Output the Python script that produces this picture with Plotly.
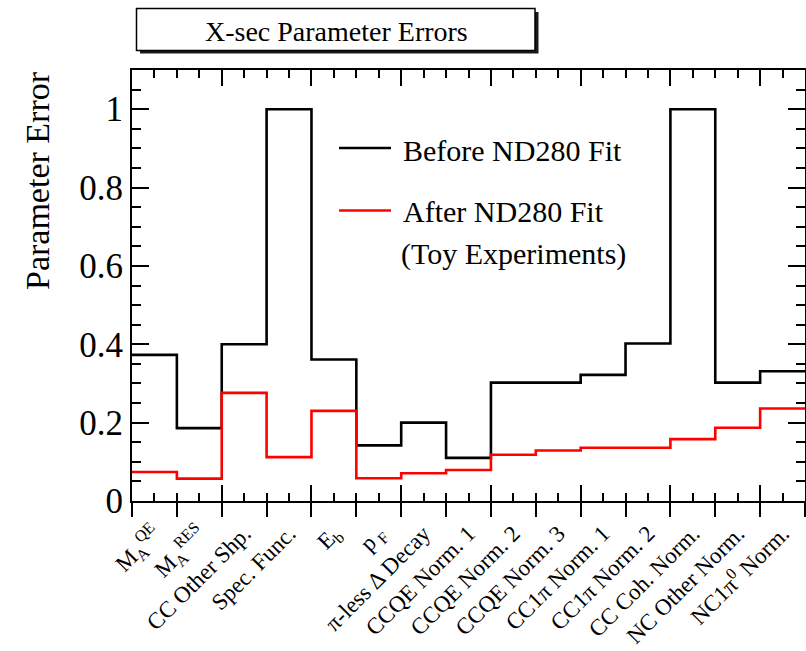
import numpy as np
import plotly.graph_objects as go

# Cross-section parameters (one bin each)
param_labels = [
    "M<sub>A</sub><sup>QE</sup>",
    "M<sub>A</sub><sup>RES</sup>",
    "CC Other Shp.",
    "Spec. Func.",
    "E<sub>b</sub>",
    "p<sub> F</sub>",
    "π-less Δ Decay",
    "CCQE Norm. 1",
    "CCQE Norm. 2",
    "CCQE Norm. 3",
    "CC1π Norm. 1",
    "CC1π Norm. 2",
    "CC Coh. Norm.",
    "NC Other Norm.",
    "NC1π<sup>0</sup> Norm.",
]

# Fractional parameter errors
err_before = [0.373, 0.186, 0.400, 1.000, 0.361, 0.142, 0.200, 0.110,
              0.302, 0.302, 0.322, 0.402, 1.000, 0.302, 0.331]
err_after = [0.074, 0.057, 0.276, 0.112, 0.230, 0.058, 0.071, 0.079,
             0.118, 0.129, 0.136, 0.136, 0.158, 0.187, 0.236]

legend_before = "Before ND280 Fit"
legend_after = ["After ND280 Fit", "(Toy Experiments)"]
title_text = "X-sec Parameter Errors"
ytitle_text = "Parameter Error"

SERIF = "Liberation Serif, Times New Roman, serif"
W, H = 806, 651
ML, MR, MT, MB = 132, 1, 70, 150
PW, PH = W - ML - MR, H - MT - MB

def fx(p):
    """pixel column -> paper x"""
    return (p - ML) / PW

def fy(p):
    """pixel row -> paper y"""
    return (H - MB - p) / PH

nbins = len(param_labels)
edges = np.arange(nbins + 1)
centers = edges[:-1] + 0.5

def step(vals):
    return list(vals) + [vals[-1]]

fig = go.Figure()

fig.add_trace(go.Scatter(
    x=edges, y=step(err_before), mode="lines", line_shape="hv",
    line=dict(color="black", width=2.6), name=legend_before, showlegend=False,
))
fig.add_trace(go.Scatter(
    x=edges, y=step(err_after), mode="lines", line_shape="hv",
    line=dict(color="#ff0000", width=2.6), name=" ".join(legend_after), showlegend=False,
))
# empty traces so the overlay axes get drawn
fig.add_trace(go.Scatter(x=[], y=[], xaxis="x2", showlegend=False))
fig.add_trace(go.Scatter(x=[], y=[], xaxis="x3", showlegend=False))
fig.add_trace(go.Scatter(x=[], y=[], yaxis="y2", showlegend=False))

axis_common = dict(showgrid=False, zeroline=False, automargin=False)

fig.update_layout(
    width=W, height=H,
    margin=dict(l=ML, r=MR, t=MT, b=MB, autoexpand=False),
    paper_bgcolor="white", plot_bgcolor="white",
    font=dict(family=SERIF, color="black"),
    showlegend=False,
    # bin-edge ticks below the axis
    xaxis=dict(
        range=[0, nbins], **axis_common,
        showline=True, linecolor="black", linewidth=2, mirror=True,
        tickmode="linear", tick0=0, dtick=1,
        ticks="outside", ticklen=14, tickwidth=2, tickcolor="black",
        showticklabels=False,
    ),
    # bin labels at bin centres
    xaxis2=dict(
        range=[0, nbins], **axis_common, overlaying="x", anchor="y", side="bottom",
        showline=False,
        tickmode="array", tickvals=centers, ticktext=param_labels,
        ticks="outside", ticklen=9, tickcolor="rgba(0,0,0,0)",
        tickangle=-45, tickfont=dict(family=SERIF, size=23, color="black"),
    ),
    # numeric divisions inside the frame, mirrored on top
    xaxis3=dict(
        range=[0, nbins], **axis_common, overlaying="x", anchor="y", side="bottom",
        showline=False, mirror="ticks",
        tickmode="linear", tick0=0, dtick=2,
        ticks="inside", ticklen=16, tickwidth=2, tickcolor="black",
        minor=dict(ticks="inside", dtick=0.5, tick0=0, ticklen=8, tickwidth=2, tickcolor="black"),
        showticklabels=False,
    ),
    yaxis=dict(
        range=[0, 1.1], **axis_common,
        showline=True, linecolor="black", linewidth=2, mirror=True,
        tickmode="linear", tick0=0, dtick=0.2,
        ticks="inside", ticklen=17, tickwidth=2, tickcolor="black",
        minor=dict(ticks="inside", dtick=0.05, tick0=0, ticklen=9, tickwidth=2, tickcolor="black"),
        tickfont=dict(family=SERIF, size=35, color="black"),
    ),
    yaxis2=dict(
        range=[0, 1.1], **axis_common, overlaying="y", anchor="x", side="right",
        showline=False,
        tickmode="linear", tick0=0, dtick=0.2,
        ticks="inside", ticklen=17, tickwidth=2, tickcolor="black",
        minor=dict(ticks="inside", dtick=0.05, tick0=0, ticklen=9, tickwidth=2, tickcolor="black"),
        showticklabels=False,
    ),
)

# Title box with drop shadow
fig.add_shape(type="rect", xref="paper", yref="paper",
              x0=fx(140), x1=fx(538.5), y0=fy(53.5), y1=fy(12),
              line=dict(width=0), fillcolor="#1a1a1a", layer="above")
fig.add_shape(type="rect", xref="paper", yref="paper",
              x0=fx(136.5), x1=fx(535), y0=fy(50.5), y1=fy(8.5),
              line=dict(color="black", width=1.5), fillcolor="white", layer="above")
fig.add_annotation(x=fx(336), y=fy(31), xref="paper", yref="paper",
                   text=title_text, showarrow=False, xanchor="center", yanchor="middle",
                   font=dict(family=SERIF, size=28, color="black"))

# Y axis title, aligned toward the top of the axis
fig.add_annotation(x=fx(37), y=fy(181), xref="paper", yref="paper",
                   text=ytitle_text, textangle=-90, showarrow=False,
                   xanchor="center", yanchor="middle",
                   font=dict(family=SERIF, size=34, color="black"))

# Legend
fig.add_shape(type="line", xref="paper", yref="paper",
              x0=fx(339), x1=fx(391), y0=fy(148), y1=fy(148),
              line=dict(color="black", width=2.6))
fig.add_shape(type="line", xref="paper", yref="paper",
              x0=fx(339), x1=fx(391), y0=fy(210.5), y1=fy(210.5),
              line=dict(color="#ff0000", width=2.6))
fig.add_annotation(x=fx(401), y=fy(150), xref="paper", yref="paper",
                   text=legend_before, showarrow=False, xanchor="left", yanchor="middle",
                   font=dict(family=SERIF, size=30, color="black"))
fig.add_annotation(x=fx(401), y=fy(212), xref="paper", yref="paper",
                   text=legend_after[0], showarrow=False, xanchor="left", yanchor="middle",
                   font=dict(family=SERIF, size=30, color="black"))
fig.add_annotation(x=fx(399), y=fy(254), xref="paper", yref="paper",
                   text=legend_after[1], showarrow=False, xanchor="left", yanchor="middle",
                   font=dict(family=SERIF, size=30, color="black"))

fig.write_html("out.html")
